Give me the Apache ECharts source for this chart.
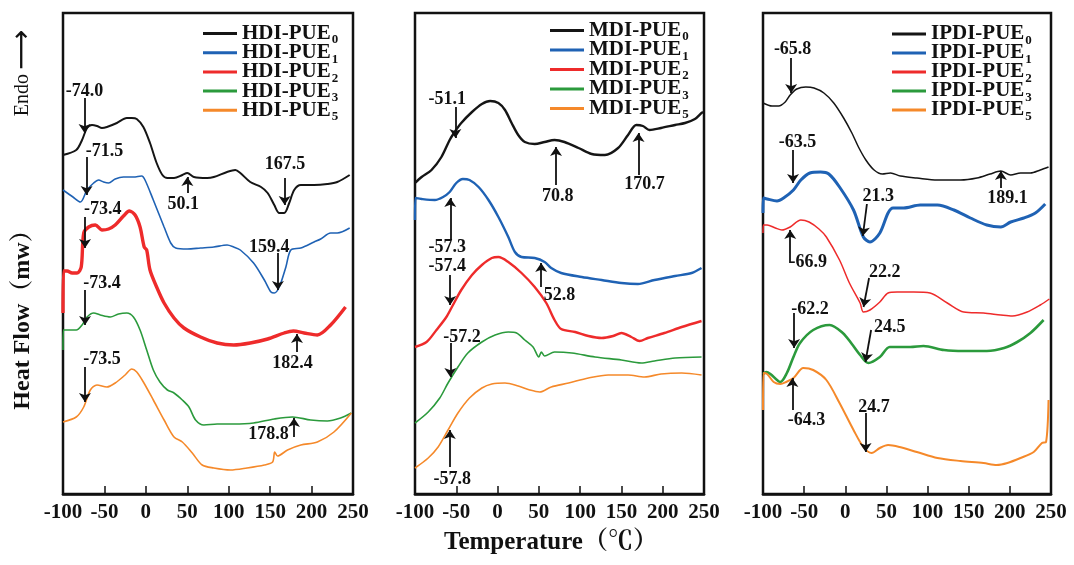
<!DOCTYPE html>
<html>
<head>
<meta charset="utf-8">
<script src="https://cdn.jsdelivr.net/npm/echarts@6/dist/echarts.min.js"></script>
<style>
  html, body { margin: 0; padding: 0; background: #ffffff; }
  #chart { width: 1074px; height: 565px; }
</style>
</head>
<body>
<div id="chart"></div>
<script>
// DSC heating curves (temperature in °C, heat flow in arbitrary offset units, endo up)

// ---- HDI series ----
const hdiPUE0 = [[-100,339],[-84,344],[-77,354],[-71,366],[-65,369],[-59,368],[-53,366],[-47,367],[-35,371],[-23,376],[-17,376],[-11,375],[-3,367],[5,351],[13,331],[20,319],[26,316],[34,316],[44,319],[50,321],[58,317],[74,316],[82,317],[98,322],[108,324],[114,321],[126,312],[139,307],[147,301],[155,289],[161,281],[167,281],[173,291],[179,304],[187,309],[203,309],[219,310],[231,312],[246,319]];
const hdiPUE1 = [[-100,304],[-88,297],[-79,292],[-71,304],[-63,311],[-57,314],[-51,312],[-45,311],[-37,315],[-27,317],[-15,317],[-5,318],[-1,314],[9,294],[22,267],[30,251],[36,246],[50,245],[66,246],[82,247],[98,249],[106,247],[114,244],[130,231],[143,214],[151,202],[155,201],[161,207],[169,227],[175,244],[187,246],[203,252],[211,255],[223,261],[231,261],[246,266]];
const hdiPUE2 = [[-100,181],[-99.5,223],[-95,223],[-89,221],[-83,221],[-78,227],[-75,261],[-69,267],[-61,269],[-53,264],[-45,265],[-37,269],[-27,278],[-20,283],[-13,279],[-7,267],[-2,247],[1,244],[5,224],[13,207],[22,191],[34,176],[46,166],[66,157],[86,151],[106,149],[126,151],[147,155],[167,161],[178,163],[191,161],[207,159],[223,169],[241,187]];
const hdiPUE3 = [[-100,144],[-99.5,164],[-84,164],[-77,169],[-71,177],[-63,181],[-55,179],[-43,177],[-33,180],[-23,181],[-15,177],[-7,164],[1,144],[9,124],[17,112],[26,104],[34,101],[44,94],[52,87],[60,74],[70,69],[86,70],[106,70],[130,71],[155,75],[177,77],[199,74],[219,73],[235,76],[248,81]];
const hdiPUE5 = [[-100,72],[-84,77],[-75,87],[-67,104],[-59,109],[-47,107],[-37,111],[-25,119],[-17,125],[-11,122],[-3,112],[9,94],[22,74],[34,57],[44,52],[56,41],[68,29],[82,26],[102,24],[122,26],[143,29],[153,32],[155.5,42],[159,38],[171,44],[187,49],[207,52],[227,62],[248,81]];

// ---- MDI series ----
const mdiPUE0 = [[-100,311],[-92,317],[-80,324],[-68,337],[-58,354],[-52,362],[-44,371],[-31,382],[-19,390],[-9,393],[1,391],[9,384],[17,371],[25,359],[33,352],[45,350],[57,352],[69,354],[81,352],[98,346],[114,340],[130,339],[146,346],[158,359],[168,369],[176,368],[184,364],[198,366],[215,369],[227,371],[239,375],[247,381],[249,382]];
const mdiPUE1 = [[-100,274],[-99.5,296],[-92,295],[-76,294],[-66,297],[-58,302],[-50,311],[-42,315],[-34,314],[-23,307],[-11,294],[1,277],[13,257],[21,242],[29,237],[45,236],[57,232],[65,226],[77,221],[102,217],[126,214],[150,211],[170,210],[190,214],[215,218],[235,221],[247,226]];
const mdiPUE2 = [[-100,147],[-86,152],[-74,164],[-62,177],[-54,189],[-44,204],[-31,219],[-19,229],[-7,236],[1,237],[13,232],[29,221],[45,207],[59,191],[69,174],[77,165],[94,162],[110,158],[126,156],[140,158],[150,161],[162,157],[172,153],[182,156],[202,161],[223,167],[247,173]];
const mdiPUE3 = [[-100,71],[-84,82],[-70,96],[-60,111],[-48,127],[-36,141],[-19,152],[-3,159],[13,162],[23,161],[33,154],[43,147],[50,137],[53,142],[57,138],[69,142],[90,141],[118,137],[150,134],[174,131],[190,133],[215,136],[247,137]];
const mdiPUE5 = [[-100,26],[-84,36],[-72,47],[-60,64],[-48,81],[-34,96],[-19,106],[-7,110],[9,111],[25,108],[39,104],[51,102],[65,107],[86,111],[110,116],[134,119],[158,119],[178,117],[198,120],[223,121],[247,119]];

// ---- IPDI series ----
const ipdiPUE0 = [[-100,391],[-89,388],[-81,388],[-73,392],[-67,399],[-59,405],[-48,407],[-38,406],[-26,401],[-14,391],[-2,376],[8,361],[16,347],[25,334],[35,324],[45,320],[55,321],[67,318],[87,316],[112,314],[140,314],[160,316],[176,320],[189,323],[201,319],[213,321],[225,321],[237,324],[247,327]];
const ipdiPUE1 = [[-100,281],[-99.5,296],[-95,295],[-83,293],[-75,296],[-63,304],[-54,314],[-43,321],[-30,322],[-20,320],[-7,307],[10,284],[22,257],[30,252],[42,261],[52,281],[58,286],[71,286],[91,289],[112,289],[132,284],[152,276],[172,269],[189,267],[201,272],[217,276],[231,281],[243,290]];
const ipdiPUE2 = [[-100,261],[-99.5,269],[-95,269],[-85,266],[-77,264],[-67,267],[-54,274],[-44,272],[-32,265],[-23,257],[-7,234],[5,211],[18,191],[22,182],[30,184],[42,192],[52,201],[63,202],[83,202],[103,201],[124,191],[144,182],[168,181],[189,179],[203,178],[221,182],[237,189],[248,195]];
const ipdiPUE3 = [[-100,120],[-96,122],[-91,120],[-79,112],[-71,121],[-63,137],[-55,151],[-39,164],[-19,169],[-3,161],[8,150],[18,139],[28,131],[42,137],[54,147],[79,147],[95,148],[120,144],[144,143],[172,143],[193,146],[209,152],[225,161],[241,174]];
const ipdiPUE5 = [[-100,84],[-99.5,121],[-95,120],[-87,112],[-79,110],[-72,112],[-63,116],[-51,126],[-39,124],[-23,114],[-7,91],[10,64],[22,47],[32,41],[42,46],[52,49],[66,47],[87,42],[112,36],[140,33],[168,31],[184,29],[197,31],[213,36],[229,42],[239,51],[244,52],[247,94]];

// Transition temperatures: [temperature, arrow tail heat flow, arrow head heat flow, optional tail temperature]
const hdiMarks = [[-74.0,396,361],[-71.5,337,299],[50.1,301,317],[167.5,316,289],[159.4,241,204],[-73.4,277,246],[-73.4,204,169],[182.4,142,160],[-73.5,127,92],[178.8,57,76]];
const mdiMarks = [[-51.1,387,356],[70.8,309,347],[170.7,319,361],[-57.3,254,296],[-57.4,219,189],[52.8,207,231],[-57.2,151,117],[-57.8,27,64]];
const ipdiMarks = [[-65.8,436,401],[-63.5,344,311],[21.3,290,258,26.3],[189.1,306,323],[-66.9,231,264],[22.2,216,187,28.9],[-62.2,181,146],[24.5,164,132,31.4],[-64.3,84,116],[24.7,81,42]];

// Where each temperature tag sits (temperature, heat flow)
const hdiTagAt = [[-74,403],[-50,343],[45,290],[168,330],[149,247],[-52,285],[-53,211],[177,131],[-53,135],[148,60]];
const mdiTagAt = [[-61,395],[73,298],[178,310],[-61,247],[-61,228],[75,199],[-43,157],[-55,15]];
const ipdiTagAt = [[-64,445],[-58,352],[40,298],[197,296],[-45,232],[48,222],[-43,185],[54,167],[-47,74],[35,87]];

const xTicks = { min: -100, max: 250, step: 50 };
const seriesSuffixes = ['0', '1', '2', '3', '5'];

const SERIF = '"Liberation Serif", "Times New Roman", "Noto Serif CJK SC", "Noto Sans CJK SC", serif';
const INK = '#111111';

// legend rows: first row centre (px from top) and row pitch
const panels = [
  { prefix: 'HDI-PUE', curves: [hdiPUE0, hdiPUE1, hdiPUE2, hdiPUE3, hdiPUE5],
    widths: [2, 1.6, 3.4, 1.6, 1.6], marks: hdiMarks, tags: hdiTagAt,
    grid: { left: 63, right: 721 }, legend: { left: 203, first: 31.5, pitch: 19.2 } },
  { prefix: 'MDI-PUE', curves: [mdiPUE0, mdiPUE1, mdiPUE2, mdiPUE3, mdiPUE5],
    widths: [2.4, 2.4, 2.4, 1.6, 1.6], marks: mdiMarks, tags: mdiTagAt,
    grid: { left: 415, right: 370 }, legend: { left: 550, first: 28.5, pitch: 19.5 } },
  { prefix: 'IPDI-PUE', curves: [ipdiPUE0, ipdiPUE1, ipdiPUE2, ipdiPUE3, ipdiPUE5],
    widths: [1.5, 3, 1.5, 2.6, 2], marks: ipdiMarks, tags: ipdiTagAt,
    grid: { left: 763, right: 23 }, legend: { left: 892, first: 32, pitch: 19 } }
];
const colors = ['#151515', '#1f62b4', '#ee2b2b', '#2b9a3c', '#f5892a'];

const grids = [], xAxes = [], yAxes = [], legends = [], series = [];

panels.forEach((p, i) => {
  grids.push({ left: p.grid.left, right: p.grid.right, top: 13, bottom: 71,
    show: true, borderColor: INK, borderWidth: 2.5, backgroundColor: 'transparent' });
  xAxes.push({
    type: 'value', gridIndex: i, min: xTicks.min, max: xTicks.max, interval: xTicks.step,
    axisLine: { show: true, onZero: false, lineStyle: { color: INK, width: 2.5 } },
    axisTick: { show: true, inside: true, length: 8, lineStyle: { color: INK, width: 1.5 } },
    axisLabel: { show: true, showMinLabel: true, showMaxLabel: true, margin: 8,
      fontFamily: SERIF, fontWeight: 'bold', fontSize: 21, color: INK },
    splitLine: { show: false }
  });
  yAxes.push({ type: 'value', gridIndex: i, min: 0, max: 481, show: false });

  const names = seriesSuffixes.map(s => p.prefix + s);
  names.forEach((n, k) => {
    legends.push({
      data: [n], orient: 'vertical', left: p.legend.left,
      top: p.legend.first + k * p.legend.pitch - 11,
      padding: 0, itemWidth: 34, itemHeight: 3, icon: 'rect', selectedMode: false,
      formatter: name => '{a|' + p.prefix + '}{s|' + name.slice(p.prefix.length) + '}',
      textStyle: {
        color: INK,
        rich: {
          a: { fontFamily: SERIF, fontWeight: 'bold', fontSize: 21, lineHeight: 19, color: INK },
          s: { fontFamily: SERIF, fontWeight: 'bold', fontSize: 13, lineHeight: 6, padding: [13, 0, 0, 1], color: INK }
        }
      }
    });
  });

  p.curves.forEach((data, k) => {
    const s = {
      name: names[k], type: 'line', xAxisIndex: i, yAxisIndex: i, data: data,
      symbol: 'none', showSymbol: false, smooth: 0.3, clip: true,
      lineStyle: { color: colors[k], width: p.widths[k] }, itemStyle: { color: colors[k] },
      emphasis: { disabled: true }, silent: true, z: 3
    };
    if (k === 0) {
      s.markLine = {
        silent: true, animation: false, symbol: ['none', 'arrow'], symbolSize: 9,
        lineStyle: { color: INK, width: 1.8, type: 'solid' },
        label: { show: false }, emphasis: { disabled: true },
        data: p.marks.map(m => [
          { coord: [m.length > 3 ? m[3] : m[0], m[1]] },
          { coord: [m[0], m[2]] }
        ])
      };
    }
    series.push(s);
  });

  series.push({
    type: 'scatter', xAxisIndex: i, yAxisIndex: i, symbolSize: 0, silent: true, z: 6,
    itemStyle: { opacity: 1, color: INK },
    data: p.tags.map((t, k) => ({ value: t, name: p.marks[k][0].toFixed(1) })),
    label: { show: true, position: 'inside', formatter: '{b}', opacity: 1,
      textBorderWidth: 0, fontFamily: SERIF, fontWeight: 'bold', fontSize: 18, color: INK }
  });
});

const chart = echarts.init(document.getElementById('chart'), null, { renderer: 'canvas' });
chart.setOption({
  animation: false,
  backgroundColor: '#ffffff',
  grid: grids, xAxis: xAxes, yAxis: yAxes, legend: legends, series: series,
  graphic: [
    { type: 'text', x: 23, y: 73, rotation: Math.PI / 2, silent: true,
      style: { text: '{e|Endo}{r|⟶}', fill: INK, textAlign: 'center', textVerticalAlign: 'middle',
        rich: {
          e: { fontFamily: SERIF, fontSize: 20, fill: INK },
          r: { fontFamily: '"DejaVu Sans", sans-serif', fontSize: 28, fill: INK, padding: [0, 0, 0, 4] }
        } } },
    { type: 'text', x: 23, y: 314, rotation: Math.PI / 2, silent: true,
      style: { text: 'Heat Flow（mw）', font: 'bold 24px ' + SERIF, fill: INK, textAlign: 'center', textVerticalAlign: 'middle' } },
    { type: 'text', x: 551, y: 543, silent: true,
      style: { text: 'Temperature（℃）', font: 'bold 25px ' + SERIF, fill: INK, textAlign: 'center', textVerticalAlign: 'middle' } }
  ]
});
</script>
</body>
</html>
